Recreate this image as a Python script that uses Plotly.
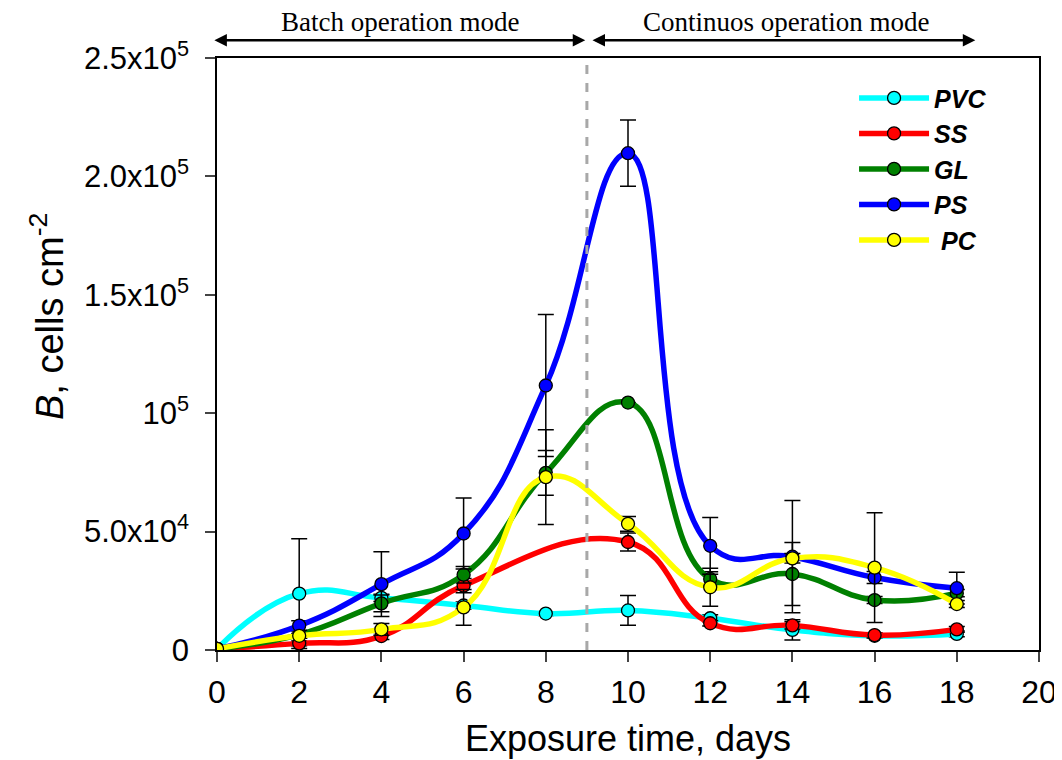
import plotly.graph_objects as go

days = [0, 2, 4, 6, 8, 10, 12, 14, 16, 18]
days_ss = [0, 2, 4, 6, 10, 12, 14, 16, 18]

pvc = [500, 23800, 22000, 18800, 15400, 16700, 13400, 8500, 6000, 6800]
pvc_err = [0, 23200, 1500, 1500, 800, 6300, 1500, 4300, 1000, 1200]

ss = [500, 2800, 5900, 27200, 45600, 11300, 10400, 6300, 8700]
ss_err = [0, 1000, 1500, 3000, 3800, 1200, 1500, 1000, 1200]

gl = [500, 6500, 19700, 31800, 74800, 104500, 30000, 32100, 21100, 24000]
gl_err = [0, 1500, 3500, 3500, 9500, 0, 3000, 13300, 1500, 1500]

ps = [500, 10300, 27800, 49200, 111700, 209800, 44000, 39400, 30600, 26100]
ps_err = [0, 2000, 13700, 15000, 30000, 14000, 12000, 23700, 2500, 6700]

pc = [500, 6000, 8700, 18000, 73000, 53300, 26500, 38700, 34800, 19400]
pc_err = [0, 1000, 2500, 7500, 20000, 3100, 8000, 2000, 23200, 1500]

series = [
    ("PVC", days, pvc, pvc_err, "#00FFFF"),
    ("SS", days_ss, ss, ss_err, "#FF0000"),
    ("GL", days, gl, gl_err, "#008000"),
    ("PS", days, ps, ps_err, "#0000FF"),
    (" PC", days, pc, pc_err, "#FFFF00"),
]

y_tickvals = [0, 50000, 100000, 150000, 200000, 250000]
y_ticktext = ["0", "5.0x10<sup>4</sup>", "10<sup>5</sup>", "1.5x10<sup>5</sup>",
              "2.0x10<sup>5</sup>", "2.5x10<sup>5</sup>"]
x_tickvals = [0, 2, 4, 6, 8, 10, 12, 14, 16, 18, 20]

mode_switch_day = 9

fig = go.Figure()
for name, xs, ys, errs, color in series:
    fig.add_trace(go.Scatter(
        x=xs, y=ys, name=name, mode="lines+markers",
        line=dict(color=color, width=5.5, shape="spline", smoothing=1.3),
        marker=dict(size=13, color=color, line=dict(color="black", width=1.3)),
        error_y=dict(type="data", array=errs, visible=True, color="black",
                     thickness=1.5, width=8),
    ))

fig.add_shape(type="line", x0=mode_switch_day, x1=mode_switch_day, y0=0, y1=1,
              xref="x", yref="y domain",
              line=dict(color="#a8a8a8", width=3, dash="dash"))

arrow_y = 1.03
for x0, x1 in [(-0.1, 8.96), (9.1, 18.45)]:
    fig.add_annotation(x=x1, y=arrow_y, ax=x0, ay=arrow_y,
                       xref="x", yref="y domain", axref="x", ayref="y domain",
                       showarrow=True, arrowhead=2, arrowside="end+start",
                       arrowsize=1.0, arrowwidth=2.5, arrowcolor="black", text="")

fig.add_annotation(x=4.45, y=1.06, xref="x", yref="y domain", text="Batch operation mode",
                   showarrow=False, yanchor="middle",
                   font=dict(family="Liberation Serif", size=27, color="black"))
fig.add_annotation(x=13.85, y=1.06, xref="x", yref="y domain", text="Continuos operation mode",
                   showarrow=False, yanchor="middle",
                   font=dict(family="Liberation Serif", size=27, color="black"))

# y-axis title as rotated text
fig.add_annotation(x=0, y=0.5625, xref="paper", yref="y domain", xshift=-170,
                   text="<i>B</i>, cells cm<sup>-2</sup>", textangle=-90,
                   showarrow=False, xanchor="center", yanchor="middle",
                   font=dict(family="Liberation Sans", size=38, color="black"))

fig.update_layout(
    width=1062, height=760,
    margin=dict(l=209, r=31, t=50, b=118),
    paper_bgcolor="white", plot_bgcolor="white",
    font=dict(family="Liberation Sans", color="black"),
    showlegend=True,
    legend=dict(x=0.775, y=0.971, xanchor="left", yanchor="top",
                bgcolor="rgba(0,0,0,0)",
                font=dict(family="Liberation Sans", size=25, color="black",
                          weight="bold", style="italic"),
                itemwidth=70),
)
fig.update_xaxes(range=[0, 20], tickvals=x_tickvals, ticks="outside", ticklen=10,
                 tickwidth=1.5, showline=True, linecolor="black", linewidth=1.5,
                 mirror=True, showgrid=False, zeroline=False, automargin=False,
                 tickfont=dict(size=32), ticklabelstandoff=3,
                 title=dict(text="Exposure time, days", font=dict(size=36), standoff=17))
fig.update_yaxes(range=[0, 250000], tickvals=y_tickvals, ticktext=y_ticktext,
                 ticks="outside", ticklen=10, tickwidth=1.5, showline=True,
                 linecolor="black", linewidth=1.5, mirror=True, showgrid=False,
                 zeroline=False, automargin=False, tickfont=dict(size=31),
                 ticklabelstandoff=10)

fig.write_html("out.html")
